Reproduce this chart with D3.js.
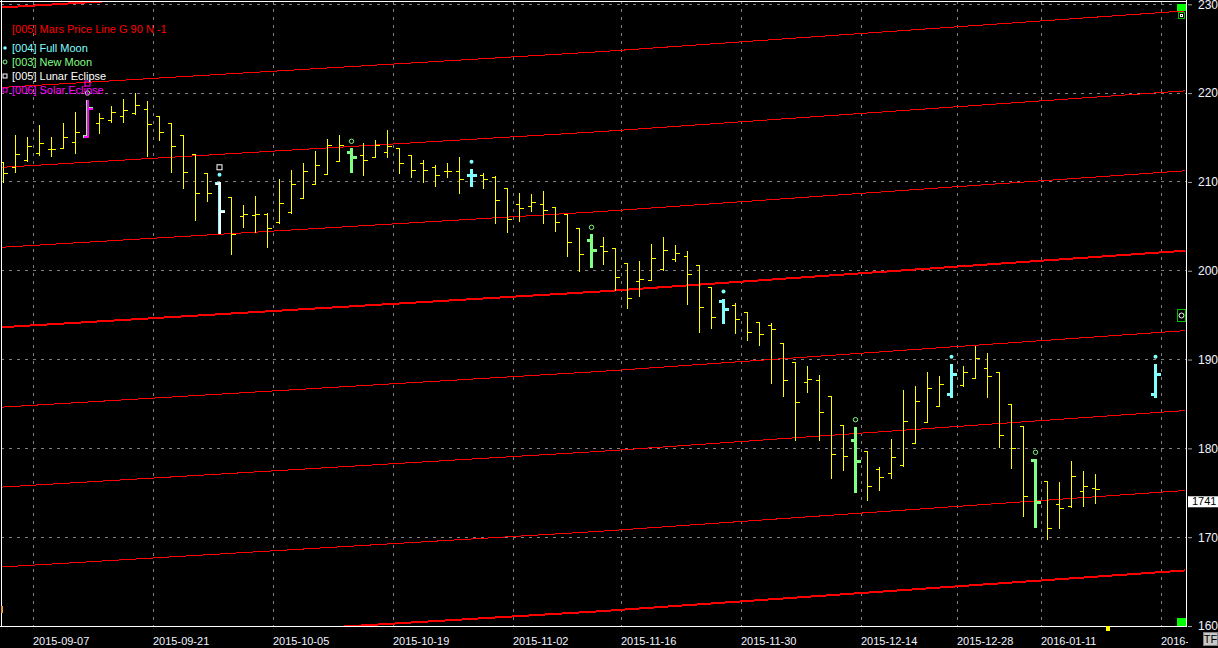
<!DOCTYPE html>
<html>
<head>
<meta charset="utf-8">
<script src="https://cdn.jsdelivr.net/npm/d3@7"></script>
<style>
  body { margin: 0; background: #000; overflow: hidden; }
  text { font-family: "Liberation Sans", Arial, sans-serif; }
</style>
</head>
<body>
<div id="chart"></div>
<script>
// bar index where each labelled date starts (the date line sits half a bar before it)
var tickBars = [3, 13, 23, 33, 43, 52, 62, 72, 80, 87, 97];
// last label is cut by the panel edge in the source, only "2016-" shows
var tickLabels = ["2015-09-07", "2015-09-21", "2015-10-05", "2015-10-19", "2015-11-02",
  "2015-11-16", "2015-11-30", "2015-12-14", "2015-12-28", "2016-01-11", "2016-"];

var priceTicks = [1600, 1700, 1800, 1900, 2000, 2100, 2200, 2300];

// daily OHLC, one entry per bar
var opens = [2122.1, 2116.5, 2124.3, 2132.2, 2137.4, 2137.9, 2145.3, 2151.7, 2166.0, 2169.4,
  2174.2, 2177.3, 2181.8, 2174.2, 2166.0, 2152.5, 2131.4, 2109.7, 2098.4, 2082.7,
  2061.6, 2062.4, 2063.5, 2055.2, 2065.8, 2081.6, 2097.3, 2108.6, 2123.9, 2134.0,
  2130.0, 2127.7, 2134.0, 2137.9, 2130.0, 2121.3, 2116.5, 2112.0, 2112.0, 2107.8,
  2107.5, 2105.2, 2092.8, 2074.8, 2072.6, 2074.8, 2071.4, 2063.5, 2047.8, 2034.3,
  2027.5, 2025.3, 2008.4, 1988.1, 1989.6, 2001.6, 2012.9, 2016.3, 2006.1, 1982.0,
  1965.6, 1961.1, 1953.2, 1941.9, 1938.9, 1918.3, 1896.9, 1874.4, 1876.6, 1858.9,
  1826.0, 1809.4, 1797.0, 1776.4, 1771.9, 1780.9, 1805.7, 1829.3, 1848.0, 1860.9,
  1871.0, 1878.9, 1890.1, 1885.6, 1849.6, 1824.8, 1786.9, 1762.9, 1737.0, 1734.8,
  1751.6, 1755.0];
var highs = [2122.8, 2152.8, 2150.2, 2164.1, 2150.9, 2166.7, 2179.1, 2192.2, 2177.3, 2185.5,
  2193.4, 2199.8, 2191.1, 2174.2, 2166.0, 2152.5, 2131.4, 2109.7, 2099.6, 2082.7,
  2074.0, 2084.1, 2065.3, 2103.0, 2113.4, 2121.6, 2134.8, 2148.3, 2152.8, 2137.9,
  2144.2, 2147.2, 2158.5, 2137.9, 2130.0, 2124.7, 2119.1, 2121.6, 2127.7, 2114.2,
  2109.7, 2106.7, 2092.8, 2087.2, 2086.4, 2089.8, 2071.4, 2063.5, 2047.8, 2041.0,
  2037.6, 2025.3, 2008.4, 2011.0, 2030.1, 2037.6, 2028.6, 2022.2, 2006.1, 1982.0,
  1968.2, 1963.3, 1953.2, 1942.6, 1941.1, 1918.3, 1896.9, 1892.7, 1882.6, 1858.9,
  1826.3, 1824.4, 1797.0, 1779.3, 1810.5, 1865.7, 1870.2, 1886.0, 1881.5, 1894.6,
  1892.7, 1915.2, 1907.0, 1885.6, 1849.6, 1824.8, 1787.7, 1762.9, 1762.1, 1785.8,
  1774.5, 1771.1];
var lows = [2100.2, 2111.5, 2123.9, 2130.3, 2129.2, 2137.9, 2132.2, 2150.2, 2155.4, 2167.8,
  2167.8, 2176.1, 2129.2, 2147.2, 2111.5, 2092.8, 2057.1, 2078.9, 2042.8, 2018.5,
  2049.6, 2044.0, 2027.1, 2054.1, 2065.3, 2081.6, 2097.3, 2108.6, 2123.9, 2110.8,
  2107.8, 2127.7, 2128.4, 2110.4, 2105.9, 2100.2, 2095.7, 2105.9, 2087.2, 2095.4,
  2092.8, 2053.4, 2043.3, 2056.3, 2067.3, 2053.4, 2045.1, 2016.9, 2000.0, 2003.9,
  2007.2, 1978.3, 1958.4, 1971.9, 1989.6, 2000.8, 2011.0, 1962.2, 1930.7, 1935.2,
  1940.8, 1929.5, 1922.0, 1916.4, 1873.2, 1859.3, 1809.4, 1863.8, 1809.4, 1766.3,
  1775.6, 1750.5, 1741.8, 1753.1, 1767.0, 1780.5, 1805.7, 1829.3, 1848.0, 1858.2,
  1870.5, 1878.9, 1858.2, 1801.9, 1777.5, 1724.2, 1711.8, 1697.9, 1710.7, 1734.3,
  1735.1, 1738.1];
var closes = [2109.7, 2131.4, 2140.1, 2143.5, 2137.4, 2150.9, 2155.9, 2182.9, 2172.3, 2178.4,
  2181.0, 2186.6, 2165.2, 2156.6, 2140.1, 2110.8, 2087.2, 2087.2, 2067.3, 2041.4,
  2063.5, 2063.5, 2047.8, 2075.9, 2097.3, 2112.3, 2118.7, 2141.6, 2141.6, 2127.7,
  2124.3, 2141.2, 2140.8, 2121.0, 2113.1, 2113.1, 2107.5, 2112.0, 2103.0, 2107.5,
  2103.0, 2079.6, 2057.9, 2070.3, 2077.1, 2068.0, 2054.5, 2032.9, 2018.5, 2023.0,
  2021.9, 1992.6, 1969.0, 1990.4, 2014.0, 2023.0, 2019.6, 1996.0, 1958.8, 1947.6,
  1956.6, 1945.3, 1931.4, 1928.4, 1934.4, 1876.6, 1851.9, 1877.8, 1840.6, 1793.3,
  1791.1, 1785.4, 1757.3, 1767.7, 1789.9, 1830.8, 1853.0, 1867.6, 1872.1, 1883.7,
  1885.6, 1901.4, 1881.1, 1814.7, 1800.1, 1746.0, 1739.9, 1710.0, 1732.5, 1768.5,
  1757.3, 1753.9];

// projected bar shown on the next full moon
var projBars = [96];
var projOpens = [1860.9];
var projHighs = [1894.6];
var projLows = [1858.2];
var projCloses = [1883.7];

// event bars
var fullMoonBars = [18, 39, 60, 79, 96];
var newMoonBars = [7, 29, 49, 71, 86];
var lunarEclipseBars = [18];
var solarEclipseBars = [7];

// Mars price line (base level) and its harmonics
var marsBars = [-0.3, 49.7, 98.5];
var marsValues = [1936.3, 1976.6, 2022.6];
var marsOffsets = [-360, -270, -180, -90, 0, 90, 180, 270, 360];
var marsWidths = [2, 1, 1, 1, 2, 1, 1, 1, 2];

var lastPrice = 1741;

var width = 1218, height = 648;
var plotLeft = 1, plotRight = 1186, plotTop = 1, plotBottom = 626;

var svg = d3.select("#chart")
  .append("svg")
    .attr("width", width)
    .attr("height", height)
    .style("display", "block")
    .style("background", "#000");

var defs = svg.append("defs");
defs.append("clipPath").attr("id", "plotClip")
  .append("rect")
    .attr("x", plotLeft + 1).attr("y", plotTop + 1)
    .attr("width", plotRight - plotLeft - 1).attr("height", plotBottom - plotTop);
defs.append("clipPath").attr("id", "dateClip")
  .append("rect")
    .attr("x", 0).attr("y", plotBottom)
    .attr("width", plotRight + 2).attr("height", height - plotBottom);

// scales: 12px per bar
var x = d3.scaleLinear().domain([0, 98.5]).range([3.5, 1185.5]);
var y = d3.scaleLinear().domain([1600, 2300]).range([626, 4.3]);

var plot = svg.append("g").attr("clip-path", "url(#plotClip)");

// grid
plot.selectAll("hgrid")
  .data(priceTicks)
  .enter()
  .append("line")
    .attr("x1", plotLeft).attr("x2", plotRight)
    .attr("y1", function(d) { return Math.floor(y(d)) + 0.5; })
    .attr("y2", function(d) { return Math.floor(y(d)) + 0.5; })
    .attr("stroke", "#808080")
    .attr("stroke-dasharray", "3,5");

plot.selectAll("vgrid")
  .data(tickBars)
  .enter()
  .append("line")
    .attr("x1", function(d) { return Math.floor(x(d - 0.5)) + 0.5; })
    .attr("x2", function(d) { return Math.floor(x(d - 0.5)) + 0.5; })
    .attr("y1", plotTop).attr("y2", plotBottom)
    .attr("stroke", "#808080")
    .attr("stroke-dasharray", "3,5");

// Mars lines
var marsLine = d3.line()
  .x(function(d) { return x(d[0]); })
  .y(function(d) { return y(d[1]); });

marsOffsets.forEach(function(off, k) {
  plot.append("path")
    .datum(marsBars.map(function(b, j) { return [b, marsValues[j] + off]; }))
    .attr("d", marsLine)
    .attr("fill", "none")
    .attr("stroke", "#ff0000")
    .attr("stroke-width", marsWidths[k])
    .attr("shape-rendering", "crispEdges");
});

// bars
var bars = opens.map(function(o, i) {
  return {i: i, o: o, h: highs[i], l: lows[i], c: closes[i]};
});
projBars.forEach(function(b, j) {
  bars.push({i: b, o: projOpens[j], h: projHighs[j], l: projLows[j], c: projCloses[j]});
});

function has(list, i) { return list.indexOf(i) >= 0; }
function moonColor(i) {
  if (has(fullMoonBars, i)) return "#80ffff";
  if (has(newMoonBars, i)) return "#80ff80";
  return null;
}
function eclipseColor(i) {
  if (has(solarEclipseBars, i)) return "#ff00ff";
  if (has(lunarEclipseBars, i)) return "#ffffff";
  return null;
}
function py(v) { return Math.round(y(v)) + 0.5; }

function drawBar(g, d, color, w, tick, dx) {
  var cx = x(d.i) + dx;
  g.append("line")
    .attr("x1", cx).attr("x2", cx)
    .attr("y1", Math.round(y(d.h))).attr("y2", Math.round(y(d.l)) + 1)
    .attr("stroke", color).attr("stroke-width", w);
  g.append("line")
    .attr("x1", cx - tick).attr("x2", cx)
    .attr("y1", py(d.o)).attr("y2", py(d.o))
    .attr("stroke", color).attr("stroke-width", w);
  g.append("line")
    .attr("x1", cx).attr("x2", cx + tick + 0.5)
    .attr("y1", py(d.c)).attr("y2", py(d.c))
    .attr("stroke", color).attr("stroke-width", w);
}

var barG = plot.append("g").attr("shape-rendering", "crispEdges");
bars.forEach(function(d) {
  var mc = moonColor(d.i), ec = eclipseColor(d.i);
  if (!mc && !ec) {
    drawBar(barG, d, "#ffff00", 1, 3.5, 0);
  } else {
    if (mc) drawBar(barG, d, mc, 3, 5, 0);
    if (ec) drawBar(barG, d, ec, 2, 4.5, 0.5);
  }
});

// markers above event bars
var markG = plot.append("g");
bars.forEach(function(d) {
  var top = y(d.h);
  if (has(fullMoonBars, d.i)) {
    markG.append("circle")
      .attr("cx", x(d.i)).attr("cy", top - 7.5).attr("r", 2)
      .attr("fill", "#80ffff");
  }
  if (has(newMoonBars, d.i)) {
    markG.append("circle")
      .attr("cx", x(d.i)).attr("cy", top - 7).attr("r", 2.2)
      .attr("fill", "none").attr("stroke", "#80ff80");
  }
  if (has(lunarEclipseBars, d.i)) {
    markG.append("rect")
      .attr("x", x(d.i) - 2.5).attr("y", top - 17.5).attr("width", 5).attr("height", 5)
      .attr("fill", "none").attr("stroke", "#ffffff");
  }
  if (has(solarEclipseBars, d.i)) {
    markG.append("rect")
      .attr("x", x(d.i) - 2.5).attr("y", top - 19).attr("width", 5).attr("height", 5)
      .attr("fill", "none").attr("stroke", "#ff00ff");
  }
});

// legend
var legend = svg.append("g").style("font-size", "11px");
legend.append("text").attr("x", 12).attr("y", 33).attr("fill", "#ff0000")
  .text("[005] Mars Price Line G 90 N -1");
legend.append("circle").attr("cx", 5).attr("cy", 48).attr("r", 1.8).attr("fill", "#80ffff");
legend.append("text").attr("x", 12).attr("y", 52).attr("fill", "#80ffff").text("[004] Full Moon");
legend.append("circle").attr("cx", 5).attr("cy", 62).attr("r", 2).attr("fill", "none").attr("stroke", "#80ff80");
legend.append("text").attr("x", 12).attr("y", 66).attr("fill", "#80ff80").text("[003] New Moon");
legend.append("rect").attr("x", 3).attr("y", 74).attr("width", 4).attr("height", 4).attr("fill", "none").attr("stroke", "#ffffff");
legend.append("text").attr("x", 12).attr("y", 80).attr("fill", "#ffffff").text("[005] Lunar Eclipse");
legend.append("rect").attr("x", 3).attr("y", 88).attr("width", 4).attr("height", 4).attr("fill", "none").attr("stroke", "#ff00ff");
legend.append("text").attr("x", 12).attr("y", 94).attr("fill", "#ff00ff").text("[006] Solar Eclipse");

// frame
var frame = svg.append("g").attr("stroke", "#ffffff").attr("shape-rendering", "crispEdges");
frame.append("line").attr("x1", plotLeft + 0.5).attr("x2", plotLeft + 0.5).attr("y1", 0).attr("y2", plotBottom + 1);
frame.append("line").attr("x1", 0).attr("x2", plotRight + 1).attr("y1", plotTop + 0.5).attr("y2", plotTop + 0.5);
frame.append("line").attr("x1", plotRight + 0.5).attr("x2", plotRight + 0.5).attr("y1", 0).attr("y2", plotBottom + 1);
frame.append("line").attr("x1", 0).attr("x2", plotRight + 1).attr("y1", plotBottom + 0.5).attr("y2", plotBottom + 0.5);

// price axis on the right
var yAxis = d3.axisRight(y)
  .tickValues(priceTicks)
  .tickSize(4)
  .tickPadding(6)
  .tickFormat(d3.format("d"));
var yAxisG = svg.append("g")
  .attr("transform", "translate(1188,0)")
  .call(yAxis);
yAxisG.select(".domain").remove();
yAxisG.selectAll("line").attr("stroke", "#a0a0a0");
yAxisG.selectAll("text")
  .attr("fill", "#f0f4ff")
  .style("font-size", "12px")
  .style("font-family", "'Liberation Sans', Arial, sans-serif");

// date axis
var xAxis = d3.axisBottom(x)
  .tickValues(tickBars.map(function(b) { return b - 0.5; }))
  .tickFormat(function(d, i) { return tickLabels[i]; })
  .tickSize(0)
  .tickPadding(10.5);
var xAxisG = svg.append("g").attr("clip-path", "url(#dateClip)")
  .append("g")
  .attr("transform", "translate(-1," + (plotBottom + 1) + ")")
  .call(xAxis);
xAxisG.select(".domain").remove();
xAxisG.selectAll("text")
  .attr("fill", "#f0f4ff")
  .style("text-anchor", "start")
  .style("font-size", "11px")
  .style("font-family", "'Liberation Sans', Arial, sans-serif");

// last price box
svg.append("rect").attr("x", 1188).attr("y", y(lastPrice) - 4.5).attr("width", 30).attr("height", 11).attr("fill", "#ffffff");
svg.append("text").attr("x", 1192).attr("y", y(lastPrice) + 4.5)
  .attr("fill", "#000").style("font-size", "11px").text(lastPrice);

// small status markers
svg.append("rect").attr("x", 1177).attr("y", 4).attr("width", 9).attr("height", 7).attr("fill", "#00ff00");
svg.append("rect").attr("x", 1178.5).attr("y", 12.5).attr("width", 6).attr("height", 6).attr("fill", "#000").attr("stroke", "#00c000");
svg.append("rect").attr("x", 1180.5).attr("y", 14.5).attr("width", 2).attr("height", 2).attr("fill", "none").attr("stroke", "#fff");
svg.append("rect").attr("x", 1177.5).attr("y", 309.5).attr("width", 8).attr("height", 12).attr("fill", "#000").attr("stroke", "#00c000");
svg.append("circle").attr("cx", 1181.5).attr("cy", 315.5).attr("r", 2.5).attr("fill", "none").attr("stroke", "#fff");
svg.append("rect").attr("x", 1177).attr("y", 618).attr("width", 9).attr("height", 8).attr("fill", "#00ff00");
svg.append("rect").attr("x", 1106).attr("y", 626).attr("width", 4).attr("height", 5).attr("fill", "#ffff00");
svg.append("rect").attr("x", 1).attr("y", 606).attr("width", 2).attr("height", 7).attr("fill", "#e0a040");

// TF button
svg.append("rect").attr("x", 1203.5).attr("y", 632.5).attr("width", 14).attr("height", 13)
  .attr("fill", "#c8c8c8").attr("stroke", "#808080");
svg.append("text").attr("x", 1210.5).attr("y", 643).attr("text-anchor", "middle")
  .attr("fill", "#000").style("font-size", "11px").text("TF");
</script>
</body>
</html>
